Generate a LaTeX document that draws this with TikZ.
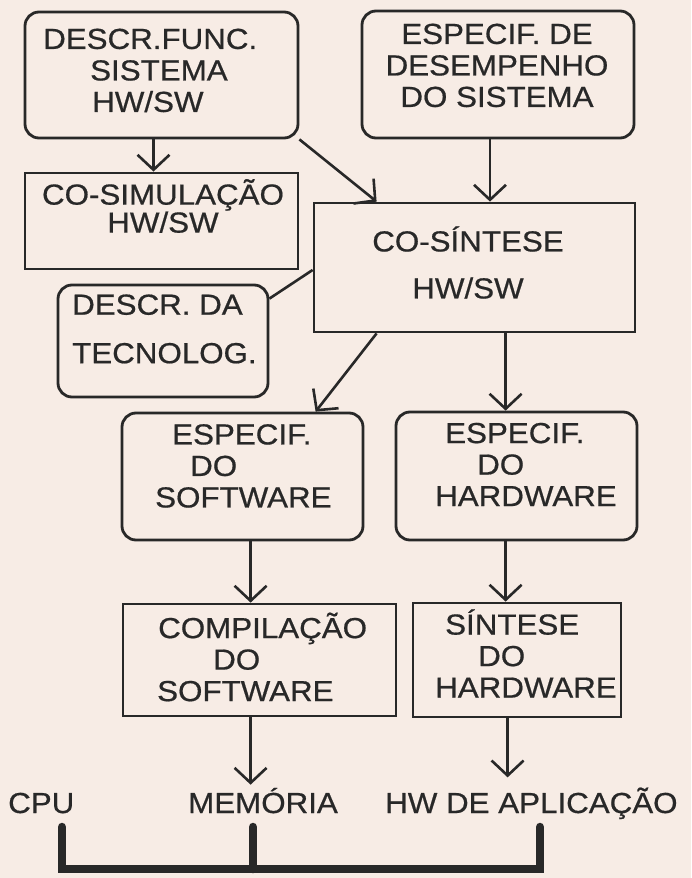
\documentclass[tikz,border=0pt]{standalone}
\usepackage{fontspec}
\setmainfont{Liberation Sans}[FakeStretch=1.08,FakeBold=0.6]
\usetikzlibrary{arrows.meta,fit}
\definecolor{paper}{RGB}{247,236,229}
\definecolor{ink}{RGB}{40,40,40}
\tikzset{
  box/.style={draw=ink, line width=2.8pt, inner sep=0pt},
  rbox/.style={box, rounded corners=14pt},
  txt/.style={inner sep=0pt, font=\fontsize{29}{31.5}\selectfont, text=ink},
  arr/.style={draw=ink, line width=2.6pt, -{Straight Barb[length=15pt,width=32pt,line width=2.6pt]}},
  plain/.style={draw=ink, line width=2.6pt},
  bus/.style={draw=ink, line width=8.5pt, line cap=round, line join=miter}
}
\begin{document}
\begin{tikzpicture}[x=1pt,y={(0pt,-1pt)}]
\fill[paper] (0,0) rectangle (691,878);
\useasboundingbox (0,0) rectangle (691,878);

% boxes
\node[rbox, fit={(25,12) (298,138)}] (b1) {};
\node[rbox, fit={(362,11) (634,138)}] (b2) {};
\node[box, fit={(25,173) (298,269)}] (cosim) {};
\node[box, fit={(314,203) (635,332)}] (cos) {};
\node[rbox, fit={(58,285) (268,397)}] (tec) {};
\node[rbox, fit={(122,413) (363,540)}] (sw) {};
\node[rbox, fit={(396,412) (637,540)}] (hw) {};
\node[box, fit={(123,604) (396,716)}] (comp) {};
\node[box, fit={(413,603) (621,717)}] (sint) {};

% texts
\node[txt, align=left, anchor=west] (t1) at (43,68)
  {\vphantom{Í}DESCR.FUNC.\\\hspace*{47pt}SISTEMA\\\hspace*{49pt}HW/SW};
\node[txt, align=center] (t2) at (497,63)
  {\vphantom{Í}ESPECIF. DE\\DESEMPENHO\\DO SISTEMA};
\node[txt, align=center] (t3) at (163,206)
  {\vphantom{Í}CO-SIMULAÇÃO\\[-3.5pt]HW/SW};
\node[txt, align=center] (t4) at (468,262.5)
  {\vphantom{Í}CO-SÍNTESE\\[15.5pt]HW/SW};
\node[txt, align=left, anchor=west] (t5) at (72,326.5)
  {\vphantom{Í}DESCR. DA\\[17pt]TECNOLOG.};
\node[txt, align=left, anchor=west] (t6) at (155,463.5)
  {\vphantom{Í}\hspace*{17pt}ESPECIF.\\\hspace*{35pt}DO\\SOFTWARE};
\node[txt, align=left, anchor=west] (t7) at (435,462)
  {\vphantom{Í}\hspace*{10pt}ESPECIF.\\\hspace*{42pt}DO\\HARDWARE};
\node[txt, align=left, anchor=west] (t8) at (157,657)
  {\vphantom{Í}\hspace*{1pt}COMPILAÇÃO\\\hspace*{56pt}DO\\SOFTWARE};
\node[txt, align=left, anchor=west] (t9) at (435,653.5)
  {\vphantom{Í}\hspace*{10pt}SÍNTESE\\\hspace*{43pt}DO\\HARDWARE};

% bottom labels
\node[txt, anchor=base west] (cpu) at (8,813) {CPU};
\node[txt, anchor=base west] (mem) at (188,813) {MEMÓRIA};
\node[txt, anchor=base west] (hwapp) at (385,813) {HW DE APLICAÇÃO};

% connectors
\draw[arr] ([xshift=-8pt]b1.south) -- ([xshift=-8pt]b1.south |- cosim.north);
\draw[arr] (b1.south east) -- ([xshift=64pt]cos.north west);
\draw[arr] ([xshift=-8pt]b2.south) -- ([xshift=-8pt]b2.south |- cos.north);
\draw[plain] ([yshift=-2.5pt]cos.west) -- ([yshift=-15pt]tec.north east);
\draw[arr] ([xshift=64pt]cos.south west) -- ([xshift=195pt]sw.north west);
\draw[arr] ([xshift=193pt]cos.south west) -- ([xshift=193pt]cos.south west |- hw.north);
\draw[arr] ([xshift=130pt]sw.south west) -- ([xshift=130pt]sw.south west |- comp.north);
\draw[arr] ([xshift=111pt]hw.south west) -- ([xshift=111pt]hw.south west |- sint.north);
\draw[arr] ([xshift=129pt]comp.south west) -- ([xshift=129pt,yshift=3pt]comp.south west |- mem.north);
\draw[arr] ([xshift=96pt]sint.south west) -- ([xshift=96pt,yshift=10pt]sint.south west |- hwapp.north);

% bus
\coordinate (cpuS) at (62,827);
\coordinate (memS) at (253,827);
\coordinate (hwS) at (540,827);
\coordinate (busL) at (62,869);
\coordinate (busM) at (253,869);
\coordinate (busR) at (540,869);
\draw[bus] (cpuS) -- (busL) -- (busR) -- (hwS);
\draw[bus] (memS) -- (busM);
\end{tikzpicture}
\end{document}
